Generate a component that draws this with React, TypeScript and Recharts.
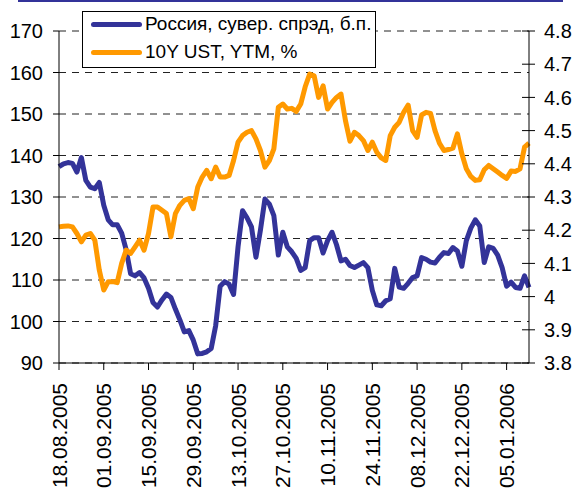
import { LineChart, Line, XAxis, YAxis, CartesianGrid, Legend } from 'recharts';

// business days from 18.08.2005 (category axis, one point per trading day)
const makeDates = (start: Date, count: number) => {
    const out: string[] = [];
    const d = new Date(start);
    while (out.length < count) {
        const wd = d.getDay();
        if (wd !== 0 && wd !== 6) {
            const dd = String(d.getDate()).padStart(2, '0');
            const mm = String(d.getMonth() + 1).padStart(2, '0');
            out.push(`${dd}.${mm}.${d.getFullYear()}`);
        }
        d.setDate(d.getDate() + 1);
    }
    return out;
};

const dates = makeDates(new Date(2005, 7, 18), 106);

// Россия, суверенный спрэд, б.п.
const spread = [
    137.3, 138, 138.3, 138.1, 136, 139.5, 134, 132.4, 132, 133.5,
    128, 124.5, 123.3, 123.3, 121.3, 117.3, 111.5, 111, 111.8, 110.5,
    108, 104.6, 103.5, 105.2, 106.6, 105.8, 103, 100.4, 97.5, 97.8,
    95.5, 92.2, 92.3, 92.7, 93.5, 99, 108.5, 109.6, 109, 106.5,
    118, 126.7, 125, 122.8, 115.5, 122, 129.5, 128.3, 125.5, 116,
    121.5, 118, 116.8, 115.2, 112.3, 113, 119.5, 120.2, 120.2, 116.5,
    119.5, 121.5, 118.5, 114.6, 115, 113.5, 113, 113.6, 114.2, 113,
    107.5, 104, 103.8, 105, 105.5, 112.8, 108.3, 108, 109.2, 110.6,
    111, 115.4, 115, 114.3, 114.1, 115.5, 116.6, 116.4, 117.8, 117,
    113.3, 119.5, 122.5, 124.5, 123, 114.2, 118, 117.6, 116, 113,
    108.5, 109.5, 108.2, 108, 111, 108.2,
];

// 10Y UST, YTM, %
const ust = [
    4.21, 4.212, 4.213, 4.21, 4.19, 4.165, 4.185, 4.19, 4.17, 4.08,
    4.02, 4.045, 4.045, 4.042, 4.1, 4.14, 4.13, 4.15, 4.17, 4.14,
    4.19, 4.27, 4.27, 4.26, 4.25, 4.18, 4.25, 4.275, 4.29, 4.295,
    4.265, 4.33, 4.36, 4.38, 4.355, 4.39, 4.36, 4.36, 4.365, 4.41,
    4.465, 4.485, 4.495, 4.5, 4.475, 4.44, 4.39, 4.41, 4.445, 4.57,
    4.58, 4.565, 4.567, 4.558, 4.58, 4.632, 4.67, 4.665, 4.6, 4.635,
    4.565, 4.585, 4.6, 4.61, 4.53, 4.468, 4.495, 4.485, 4.47, 4.44,
    4.465, 4.435, 4.418, 4.41, 4.485, 4.51, 4.525, 4.555, 4.577, 4.5,
    4.48, 4.547, 4.555, 4.552, 4.5, 4.462, 4.44, 4.443, 4.447, 4.49,
    4.43, 4.385, 4.362, 4.35, 4.352, 4.382, 4.395, 4.385, 4.375, 4.365,
    4.356, 4.378, 4.377, 4.385, 4.45, 4.462,
];

const leftTicks = [90, 100, 110, 120, 130, 140, 150, 160, 170];
const rightTicks = [3.8, 3.9, 4.0, 4.1, 4.2, 4.3, 4.4, 4.5, 4.6, 4.7, 4.8];

const BLUE = '#333399';
const ORANGE = '#FF9900';
const FONT = '"Liberation Sans", Arial, sans-serif';
const FS = 20;

const data = dates.map((date, i) => ({ date, spread: spread[i], ust: ust[i] }));

const LeftTick = (props: any) => {
    const { x, y, payload } = props;
    return (
        <text x={x} y={y} dy="0.36em" textAnchor="end" fontFamily={FONT} fontSize={FS} fill="#000">
            {payload.value}
        </text>
    );
};

const RightTick = (props: any) => {
    const { x, y, payload } = props;
    return (
        <g>
            <line x1={x - 22} x2={x - 9} y1={y} y2={y} stroke="#000" />
            <text x={x} y={y} dy="0.36em" textAnchor="start" fontFamily={FONT} fontSize={FS} fill="#000">
                {String(Number(Number(payload.value).toFixed(1)))}
            </text>
        </g>
    );
};

const DateTick = (props: any) => {
    const { x, y, payload } = props;
    return (
        <text
            transform={`translate(${x},${y}) rotate(-90)`}
            dy="0.36em"
            textAnchor="end"
            fontFamily={FONT}
            fontSize={21}
            fill="#000"
        >
            {payload.value}
        </text>
    );
};

const LegendBox = () => (
    <div style={{
        width: 292, height: 55, border: '1px solid #000', background: '#fff',
        fontFamily: FONT, fontSize: 19, color: '#000', position: 'relative',
    }}>
        {[
            { color: BLUE, label: 'Россия, сувер. спрэд, б.п.', top: 12 },
            { color: ORANGE, label: '10Y UST, YTM, %', top: 40 },
        ].map((r) => (
            <div key={r.label} style={{ position: 'absolute', left: 8, top: r.top - 11, height: 22, display: 'flex', alignItems: 'center', whiteSpace: 'nowrap' }}>
                <div style={{ width: 51, height: 5, borderRadius: 3, background: r.color, marginRight: 3 }} />
                <span>{r.label}</span>
            </div>
        ))}
    </div>
);

export default function App() {
    return (
        <div style={{ position: 'relative', width: 578, height: 493, background: '#fff', overflow: 'hidden' }}>
            <style>{'body{margin:0}'}</style>
            <div style={{ position: 'absolute', left: 18, top: 0, width: 545, height: 2, background: BLUE }} />
            <LineChart width={578} height={493} data={data} margin={{ top: 31, right: 0, bottom: 0, left: 0 }}>
                <CartesianGrid yAxisId="left" vertical={false} stroke="#222" strokeDasharray="7 6" />
                <XAxis
                    dataKey="date"
                    interval={9}
                    height={130}
                    tickSize={7}
                    tickMargin={13}
                    axisLine={{ stroke: '#000' }}
                    tickLine={{ stroke: '#000' }}
                    tick={<DateTick />}
                />
                <YAxis
                    yAxisId="left"
                    orientation="left"
                    width={59}
                    domain={[90, 170]}
                    ticks={leftTicks}
                    interval={0}
                    tickSize={6}
                    tickMargin={10}
                    axisLine={{ stroke: '#000' }}
                    tickLine={{ stroke: '#000' }}
                    tick={<LeftTick />}
                />
                <YAxis
                    yAxisId="right"
                    orientation="right"
                    width={49}
                    domain={[3.8, 4.8]}
                    ticks={rightTicks}
                    interval={0}
                    tickSize={6}
                    tickMargin={9}
                    axisLine={{ stroke: '#000' }}
                    tickLine={false}
                    tick={<RightTick />}
                />
                <Legend
                    layout="vertical"
                    align="center"
                    verticalAlign="middle"
                    wrapperStyle={{ position: 'absolute', left: 82, top: 11, width: 'auto' }}
                    content={() => <LegendBox />}
                />
                <Line
                    yAxisId="left"
                    dataKey="spread"
                    stroke={BLUE}
                    strokeWidth={5}
                    dot={false}
                    strokeLinejoin="round"
                    isAnimationActive={false}
                />
                <Line
                    yAxisId="right"
                    dataKey="ust"
                    stroke={ORANGE}
                    strokeWidth={5}
                    dot={false}
                    strokeLinejoin="round"
                    isAnimationActive={false}
                />
            </LineChart>
        </div>
    );
}
